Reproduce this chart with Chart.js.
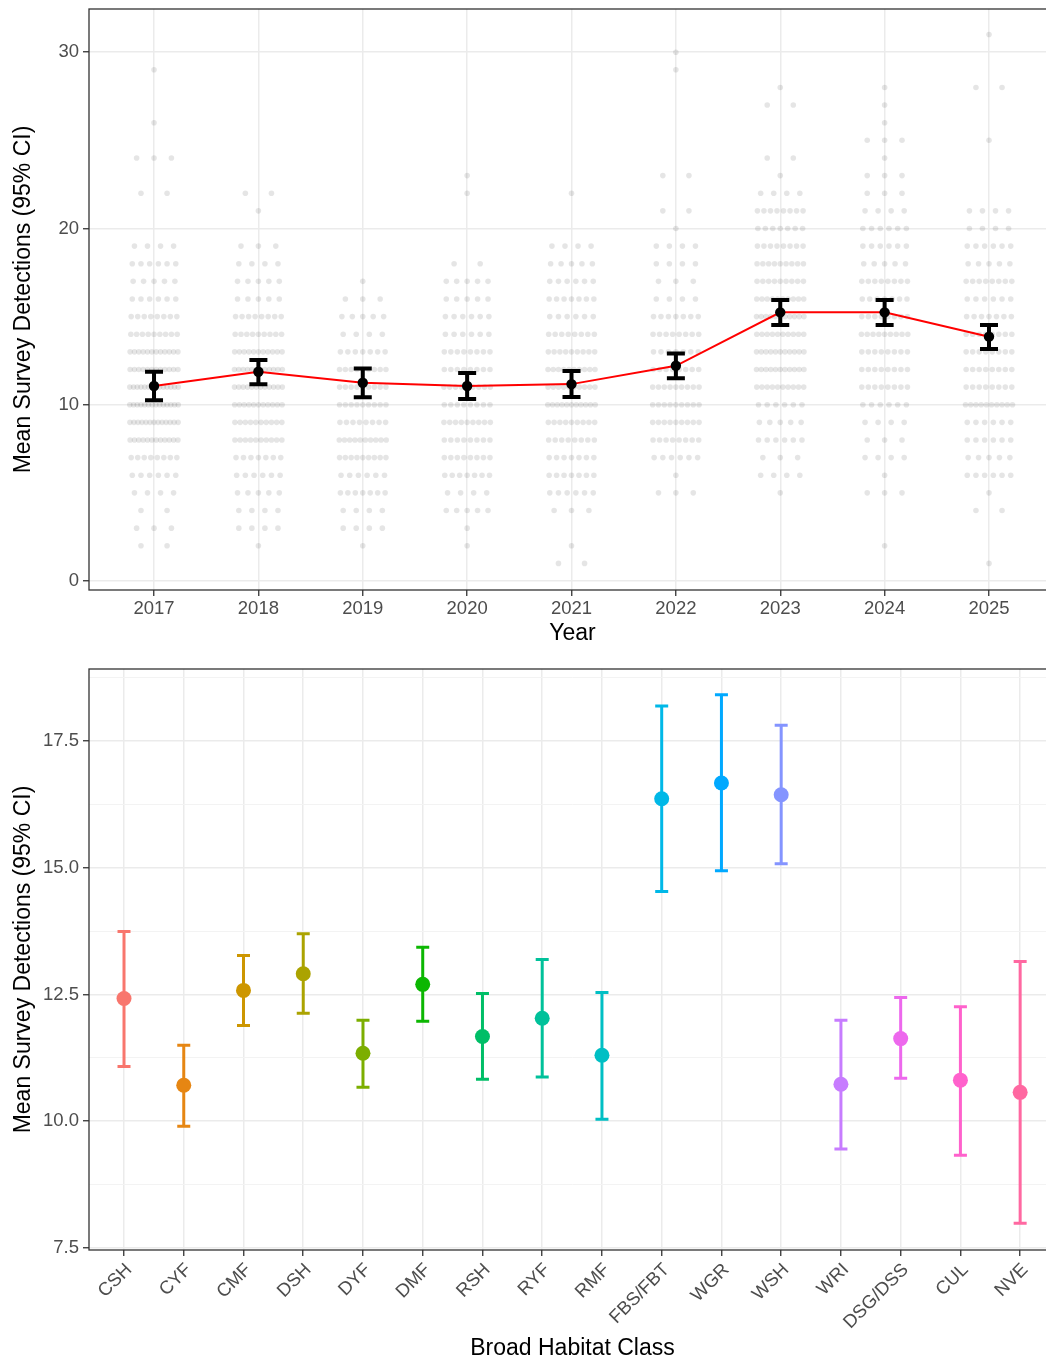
<!DOCTYPE html>
<html><head><meta charset="utf-8">
<script src="https://cdn.jsdelivr.net/npm/chart.js@4.4.0/dist/chart.umd.min.js"></script>
<style>
html,body{margin:0;padding:0;background:#fff;overflow:hidden;}
#wrap{position:relative;width:1046px;height:1361px;overflow:hidden;background:#fff;}
#c1{position:absolute;left:0;top:0;}
#c2{position:absolute;left:0;top:650px;}
</style></head><body>
<div id="wrap"><canvas id="c1" width="1056" height="650"></canvas><canvas id="c2" width="1056" height="711"></canvas></div>
<script>
// ---------- Top panel: by year ----------
const years = ['2017','2018','2019','2020','2021','2022','2023','2024','2025'];
const yearMean  = [11.06, 11.87, 11.25, 11.06, 11.17, 12.21, 15.24, 15.24, 13.86];
const yearLower = [10.25, 11.16, 10.42, 10.32, 10.44, 11.50, 14.52, 14.52, 13.16];
const yearUpper = [11.87, 12.54, 12.06, 11.80, 11.91, 12.91, 15.94, 15.94, 14.52];
const yearYTicks = [0, 10, 20, 30];

// raw survey detections: number of surveys at each detection count 0..31, per year
const counts2017 = [0,0,2,3,2,4,6,8,12,13,14,14,12,12,9,8,6,5,6,4,0,0,2,0,3,0,1,0,0,1,0,0];
const counts2018 = [0,0,1,4,4,5,6,7,10,10,11,12,12,11,9,8,5,5,4,3,0,1,2,0,0,0,0,0,0,0,0,0];
const counts2019 = [0,0,1,4,4,7,6,9,10,8,9,9,9,7,4,5,3,1,0,0,0,0,0,0,0,0,0,0,0,0,0,0];
const counts2020 = [0,0,1,1,5,4,7,8,8,9,8,9,8,8,6,6,5,5,2,0,0,0,1,1,0,0,0,0,0,0,0,0];
const counts2021 = [0,2,1,0,3,6,7,7,8,9,11,10,10,9,8,6,7,6,5,4,0,0,1,0,0,0,0,0,0,0,0,0];
const counts2022 = [0,0,0,0,0,3,1,6,8,9,9,9,8,7,8,7,4,3,4,4,1,2,0,2,0,0,0,0,0,1,1,0];
const counts2023 = [0,0,0,0,0,1,4,3,6,5,6,10,11,11,10,11,10,9,9,8,7,8,4,1,2,0,0,2,1,0,0,0];
const counts2024 = [0,0,1,0,0,3,1,4,3,4,6,8,8,8,9,8,7,8,5,6,6,4,3,3,1,3,1,1,1,0,0,0];
const counts2025 = [0,1,0,0,2,1,6,5,6,6,10,8,8,8,8,7,6,8,5,6,4,4,0,0,0,1,0,0,2,0,0,1];
const rawCountsByYear = [counts2017,counts2018,counts2019,counts2020,counts2021,counts2022,counts2023,counts2024,counts2025];

// ---------- Bottom panel: by habitat ----------
const habitats = ['CSH','CYF','CMF','DSH','DYF','DMF','RSH','RYF','RMF','FBS/FBT','WGR','WSH','WRI','DSG/DSS','CUL','NVE'];
const habitatMean  = [12.42,10.71,12.58,12.91,11.34,12.70,11.67,12.03,11.30,16.36,16.67,16.44,10.73,11.63,10.81,10.57];
const habitatLower = [11.08, 9.90,11.89,12.13,10.67,11.97,10.83,10.87,10.04,14.53,14.94,15.08, 9.45,10.85, 9.33, 7.99];
const habitatUpper = [13.74,11.50,13.27,13.70,11.99,13.43,12.52,13.19,12.54,18.19,18.41,17.81,11.99,12.44,12.26,13.15];
const habitatColors = ['#F8766D','#E68613','#CD9600','#ABA300','#7CAE00','#0CB702','#00BE67','#00C19A','#00BFC4','#00B8E7','#00A9FF','#8494FF','#C77CFF','#ED68ED','#FF61CC','#FF68A1'];
const habitatYMajor = [7.5, 10, 12.5, 15, 17.5];
const habitatYMajorLabels = ['7.5','10.0','12.5','15.0','17.5'];
const habitatYMinor = [8.75, 11.25, 13.75, 16.25, 18.75];

// ---------- helpers ----------
const FONT = "'Liberation Sans', Arial, Helvetica, sans-serif";
const TICK_COL = '#4d4d4d';
const GRID_COL = '#ebebeb';
const BORDER_COL = '#333333';
const JITTER_HALF = 0.25;

function buildRawPoints() {
  const pts = [];
  rawCountsByYear.forEach((counts, yi) => {
    counts.forEach((n, value) => {
      for (let k = 0; k < n; k++) {
        const off = -JITTER_HALF + 2 * JITTER_HALF * ((k + 0.5) / n);
        pts.push({x: yi + off, y: value});
      }
    });
  });
  return pts;
}

function drawErrorBars(chart, xs, lo, hi, colors, lw, capHalf) {
  const {ctx, scales: {x, y}, chartArea} = chart;
  ctx.save();
  ctx.beginPath();
  ctx.rect(chartArea.left, chartArea.top, chartArea.right - chartArea.left, chartArea.bottom - chartArea.top);
  ctx.clip();
  ctx.lineCap = 'butt';
  for (let i = 0; i < lo.length; i++) {
    const px = x.getPixelForValue(xs[i]);
    const pl = y.getPixelForValue(lo[i]);
    const ph = y.getPixelForValue(hi[i]);
    ctx.strokeStyle = Array.isArray(colors) ? colors[i] : colors;
    ctx.lineWidth = lw;
    ctx.beginPath();
    ctx.moveTo(px, pl); ctx.lineTo(px, ph);
    ctx.moveTo(px - capHalf, pl); ctx.lineTo(px + capHalf, pl);
    ctx.moveTo(px - capHalf, ph); ctx.lineTo(px + capHalf, ph);
    ctx.stroke();
  }
  ctx.restore();
}

const panelBorder = {
  id: 'panelBorder',
  afterDraw(chart) {
    const {ctx, chartArea: a} = chart;
    ctx.save();
    ctx.strokeStyle = BORDER_COL;
    ctx.lineWidth = 1.3;
    ctx.strokeRect(a.left, a.top, a.right - a.left, a.bottom - a.top);
    ctx.restore();
  }
};

const noPadX = s => { s.paddingLeft = 0; s.paddingRight = 0; };
const noPadY = s => { s.paddingTop = 0; s.paddingBottom = 0; };

// ---------- Top chart ----------
const yearIdx = years.map((_, i) => i);
new Chart(document.getElementById('c1'), {
  type: 'scatter',
  data: {
    datasets: [
      { // means
        data: yearMean.map((v, i) => ({x: yearIdx[i], y: v})),
        pointRadius: 5.2, pointBackgroundColor: '#000', pointBorderWidth: 0, showLine: false
      },
      { // trend line
        data: yearMean.map((v, i) => ({x: yearIdx[i], y: v})),
        showLine: true, borderColor: '#ff0000', borderWidth: 2, pointRadius: 0, tension: 0, fill: false
      },
      { // raw jittered observations
        data: buildRawPoints(),
        pointRadius: 2.8, pointBackgroundColor: 'rgba(0,0,0,0.1)', pointBorderWidth: 0, showLine: false
      }
    ]
  },
  options: {
    responsive: false, animation: false, devicePixelRatio: 1,
    layout: {autoPadding: false, padding: {top: 9, left: 0, right: 0, bottom: 0}},
    plugins: {legend: {display: false}, tooltip: {enabled: false}},
    scales: {
      x: {
        type: 'linear', min: -0.623, max: 8.642,
        afterBuildTicks: s => { s.ticks = yearIdx.map(v => ({value: v})); },
        afterFit: s => { s.height = 60; noPadX(s); },
        ticks: {callback: v => years[v], color: TICK_COL, font: {family: FONT, size: 18.5}, padding: 2, maxRotation: 0, autoSkip: false},
        grid: {color: GRID_COL, lineWidth: 1.5, tickLength: 6, tickColor: BORDER_COL, tickWidth: 1.3},
        border: {display: false},
        title: {display: true, text: 'Year', color: '#000', font: {family: FONT, size: 23, lineHeight: 1.1}, padding: {top: 0, bottom: 4}}
      },
      y: {
        type: 'linear', min: -0.51, max: 32.45,
        afterBuildTicks: s => { s.ticks = yearYTicks.map(v => ({value: v})); },
        afterFit: s => { s.width = 89; noPadY(s); },
        ticks: {callback: v => String(v), color: TICK_COL, font: {family: FONT, size: 18.5}, padding: 4},
        grid: {color: GRID_COL, lineWidth: 1.5, tickLength: 6, tickColor: BORDER_COL, tickWidth: 1.3},
        border: {display: false},
        title: {display: true, text: 'Mean Survey Detections (95% CI)', color: '#000', font: {family: FONT, size: 23}, padding: {top: 10, bottom: 0}}
      }
    }
  },
  plugins: [panelBorder, {
    id: 'yearErr',
    afterDatasetDraw(chart, args) {
      if (args.index === 1) drawErrorBars(chart, yearIdx, yearLower, yearUpper, '#000', 4, 9);
    }
  }]
});

// ---------- Bottom chart ----------
const habIdx = habitats.map((_, i) => i);
const habYTicks = habitatYMajor.concat(habitatYMinor).sort((a, b) => a - b);
const isMajor = v => habitatYMajor.indexOf(v) >= 0;
new Chart(document.getElementById('c2'), {
  type: 'scatter',
  data: {
    datasets: [{
      data: habitatMean.map((v, i) => ({x: habIdx[i], y: v})),
      pointRadius: 7.5, pointBackgroundColor: habitatColors, pointBorderWidth: 0, showLine: false
    }]
  },
  options: {
    responsive: false, animation: false, devicePixelRatio: 1,
    layout: {autoPadding: false, padding: {top: 19, left: 0, right: 0, bottom: 0}},
    plugins: {legend: {display: false}, tooltip: {enabled: false}},
    scales: {
      x: {
        type: 'linear', min: -0.586, max: 15.60,
        afterBuildTicks: s => { s.ticks = habIdx.map(v => ({value: v})); },
        afterFit: s => { s.height = 111; noPadX(s); },
        ticks: {callback: v => habitats[v], color: TICK_COL, font: {family: FONT, size: 18.5}, padding: 3, labelOffset: 5, minRotation: 45, maxRotation: 45, autoSkip: false},
        grid: {color: GRID_COL, lineWidth: 1.5, tickLength: 6, tickColor: BORDER_COL, tickWidth: 1.3},
        border: {display: false},
        title: {display: true, text: 'Broad Habitat Class', color: '#000', font: {family: FONT, size: 23, lineHeight: 1.1}, padding: {top: 0, bottom: 0}}
      },
      y: {
        type: 'linear', min: 7.46, max: 18.92,
        afterBuildTicks: s => { s.ticks = habYTicks.map(v => ({value: v})); },
        afterFit: s => { s.width = 89; noPadY(s); },
        ticks: {callback: v => { const k = habitatYMajor.indexOf(v); return k >= 0 ? habitatYMajorLabels[k] : ''; }, color: TICK_COL, font: {family: FONT, size: 18.5}, padding: 4},
        grid: {
          color: c => isMajor(c.tick.value) ? GRID_COL : '#f3f3f3',
          lineWidth: c => isMajor(c.tick.value) ? 1.5 : 1,
          tickLength: 6,
          tickColor: c => isMajor(c.tick.value) ? BORDER_COL : 'rgba(0,0,0,0)',
          tickWidth: 1.3
        },
        border: {display: false},
        title: {display: true, text: 'Mean Survey Detections (95% CI)', color: '#000', font: {family: FONT, size: 23}, padding: {top: 10, bottom: 0}}
      }
    }
  },
  plugins: [panelBorder, {
    id: 'habErr',
    beforeDatasetsDraw(chart) {
      drawErrorBars(chart, habIdx, habitatLower, habitatUpper, habitatColors, 3, 6.5);
    }
  }]
});
</script>
</body></html>
